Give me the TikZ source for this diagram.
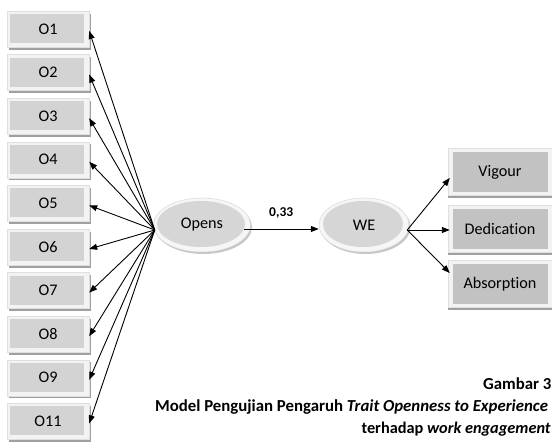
\documentclass[tikz,border=0pt]{standalone}
\usepackage{fontspec}
\setmainfont{Carlito}[RawFeature=-liga]
\usetikzlibrary{arrows.meta,shadows,shapes.geometric}
\definecolor{framec}{HTML}{F3F3F3}
\definecolor{innerc}{HTML}{D3D3D3}
\definecolor{innerd}{HTML}{C2C2C2}
\definecolor{shadc}{HTML}{A0A0A0}
\definecolor{ellc}{HTML}{D6D6D6}
\begin{document}
\begin{tikzpicture}[x=1pt,y=-1pt,
  lbl/.style={font=\fontsize{16.2}{19}\selectfont},
  obox/.style={lbl, minimum width=82pt, minimum height=36pt, inner sep=0pt,
    fill=framec, draw=gray!25, line width=0.4pt,
    drop shadow={shadow xshift=1.6pt, shadow yshift=-2.6pt, fill=shadc, opacity=1},
    path picture={\fill[innerc] ([shift={(3pt,-3pt)}]path picture bounding box.north west)
      rectangle ([shift={(-5pt,4pt)}]path picture bounding box.south east);}},
  rbox/.style={lbl, minimum width=104pt, minimum height=47pt, inner sep=0pt,
    fill=framec, draw=gray!25, line width=0.4pt,
    drop shadow={shadow xshift=0pt, shadow yshift=-3pt, fill=shadc, opacity=1},
    path picture={\fill[innerd] ([shift={(5pt,-3.5pt)}]path picture bounding box.north west)
      rectangle ([shift={(-4pt,3.5pt)}]path picture bounding box.south east);}},
  lat/.style={lbl, ellipse, inner sep=0pt, minimum height=54pt,
    fill=gray!7, draw=gray!30, line width=0.5pt,
    drop shadow={shadow xshift=1.5pt, shadow yshift=-2pt, fill=gray!45, opacity=1},
    path picture={\fill[ellc] ([shift={(-1pt,1pt)}]path picture bounding box.center)
      ellipse [x radius=\pgfkeysvalueof{/tikz/innerrx}, y radius=23pt];}},
  innerrx/.initial=42pt,
  arr/.style={line width=0.9pt, -{Triangle[length=8pt,width=6pt]}},
  captxt/.style={font=\fontsize{16.8}{20}\selectfont\bfseries}
]
\useasboundingbox (0,0) rectangle (552,443);
\fill[white] (0,0) rectangle (552,443);

% indicator boxes
\node[obox] (o1)  at (48,29)    {O1};
\node[obox] (o2)  at (48,72.6)  {O2};
\node[obox] (o3)  at (48,116.2) {O3};
\node[obox] (o4)  at (48,159.8) {O4};
\node[obox] (o5)  at (48,203.4) {O5};
\node[obox] (o6)  at (48,247)   {O6};
\node[obox] (o7)  at (48,290.6) {O7};
\node[obox] (o8)  at (48,334.2) {O8};
\node[obox] (o9)  at (48,377.8) {O9};
\node[obox] (o11) at (48,421.4) {O11};

% latent variables
\node[lat, minimum width=97pt, innerrx=44pt] (opens) at (202,225) {Opens};
\node[lat, minimum width=90pt, innerrx=40pt] (we) at (364,225) {WE};

% right boxes
\node[rbox] (vig) at (500,172) {Vigour};
\node[rbox] (ded) at (500,229) {Dedication};
\node[rbox] (abs) at (500,284) {Absorption};

% fan points
\coordinate (fan) at ([shift={(1.5,5)}]opens.west);
\coordinate (fanr) at ([shift={(-2,5)}]we.east);

\foreach \n in {o1,o2,o3,o4,o5,o6,o7,o8,o9,o11}
  \draw[arr] (fan) -- ([shift={(0,2)}]\n.east);

\draw[arr] ([shift={(-7,4)}]opens.east) -- ([shift={(0,4)}]we.west)
  node[pos=0.5, above=7pt, font=\fontsize{13.5}{15}\selectfont\bfseries] (lab) {0,33};

\draw[arr] (fanr) -- ([shift={(2,6)}]vig.west);
\draw[arr] (fanr) -- ([shift={(2,1)}]ded.west);
\draw[arr] (fanr) -- ([shift={(2,-11)}]abs.west);

% caption
\node[captxt, anchor=base west, inner sep=0pt] (c1) at (483,390) {Gambar 3};
\node[captxt, anchor=base west, inner sep=0pt] (c2) at (155,412) {Model Pengujian Pengaruh \textit{Trait Openness to Experience}};
\node[font=\fontsize{16.3}{19}\selectfont\bfseries, anchor=base east, inner sep=0pt] (c3) at (551,434) {terhadap \textit{work engagement}};
\end{tikzpicture}
\end{document}
